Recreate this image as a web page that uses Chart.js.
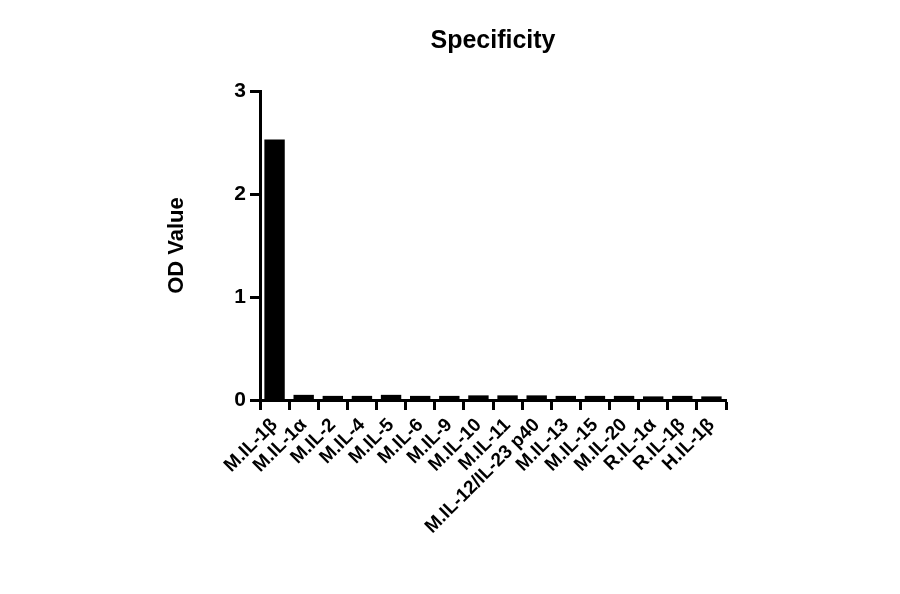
<!DOCTYPE html>
<html><head><script src="https://cdn.jsdelivr.net/npm/chart.js@4"></script>
<style>body{margin:0;background:#fff}#w{width:900px;height:594px}</style></head>
<body><div id="w"><canvas id="c"></canvas></div>
<script>
const categories=["M.IL-1β","M.IL-1α","M.IL-2","M.IL-4","M.IL-5","M.IL-6","M.IL-9","M.IL-10","M.IL-11","M.IL-12/IL-23 p40","M.IL-13","M.IL-15","M.IL-20","R.IL-1α","R.IL-1β","H.IL-1β"];
const odValues=[2.53,0.05,0.04,0.04,0.05,0.04,0.04,0.045,0.045,0.045,0.04,0.04,0.04,0.035,0.04,0.035];
const yTicks=[0,1,2,3];
const F='"Liberation Sans", Arial, sans-serif';
const titlePlugin={id:'t',afterDraw(c){const x=c.ctx;x.save();x.font='bold 25px '+F;x.fillStyle='#000';x.textAlign='center';x.textBaseline='middle';x.fillText('Specificity',493,41);x.restore();}};
new Chart(document.getElementById('c'),{type:'bar',
data:{labels:categories,datasets:[{data:odValues,backgroundColor:'#000',borderColor:'#000',categoryPercentage:0.7,barPercentage:1}]},
options:{responsive:true,maintainAspectRatio:false,animation:false,
layout:{padding:{left:160,right:174,top:91,bottom:0}},
plugins:{legend:{display:false},tooltip:{enabled:false}},
scales:{
y:{min:0,max:3,afterFit(s){s.width=100;},afterBuildTicks(s){s.ticks=yTicks.map(v=>({value:v}));},
 border:{color:'#000',width:3},grid:{display:true,drawOnChartArea:false,drawTicks:true,tickLength:10,tickWidth:3,tickColor:'#000'},
 ticks:{color:'#000',font:{family:F,size:21,weight:'bold'},padding:4},
 title:{display:true,text:'OD Value',color:'#000',font:{family:F,size:22,weight:'bold'},padding:{bottom:26}}},
x:{afterFit(s){s.height=194;},border:{color:'#000',width:3},grid:{display:true,drawOnChartArea:false,drawTicks:true,tickLength:10,tickWidth:3,tickColor:'#000'},
 ticks:{color:'#000',font:{family:F,size:19,weight:'bold'},minRotation:45,maxRotation:45,autoSkip:false,padding:4}}
}},plugins:[titlePlugin]});
</script></body></html>
